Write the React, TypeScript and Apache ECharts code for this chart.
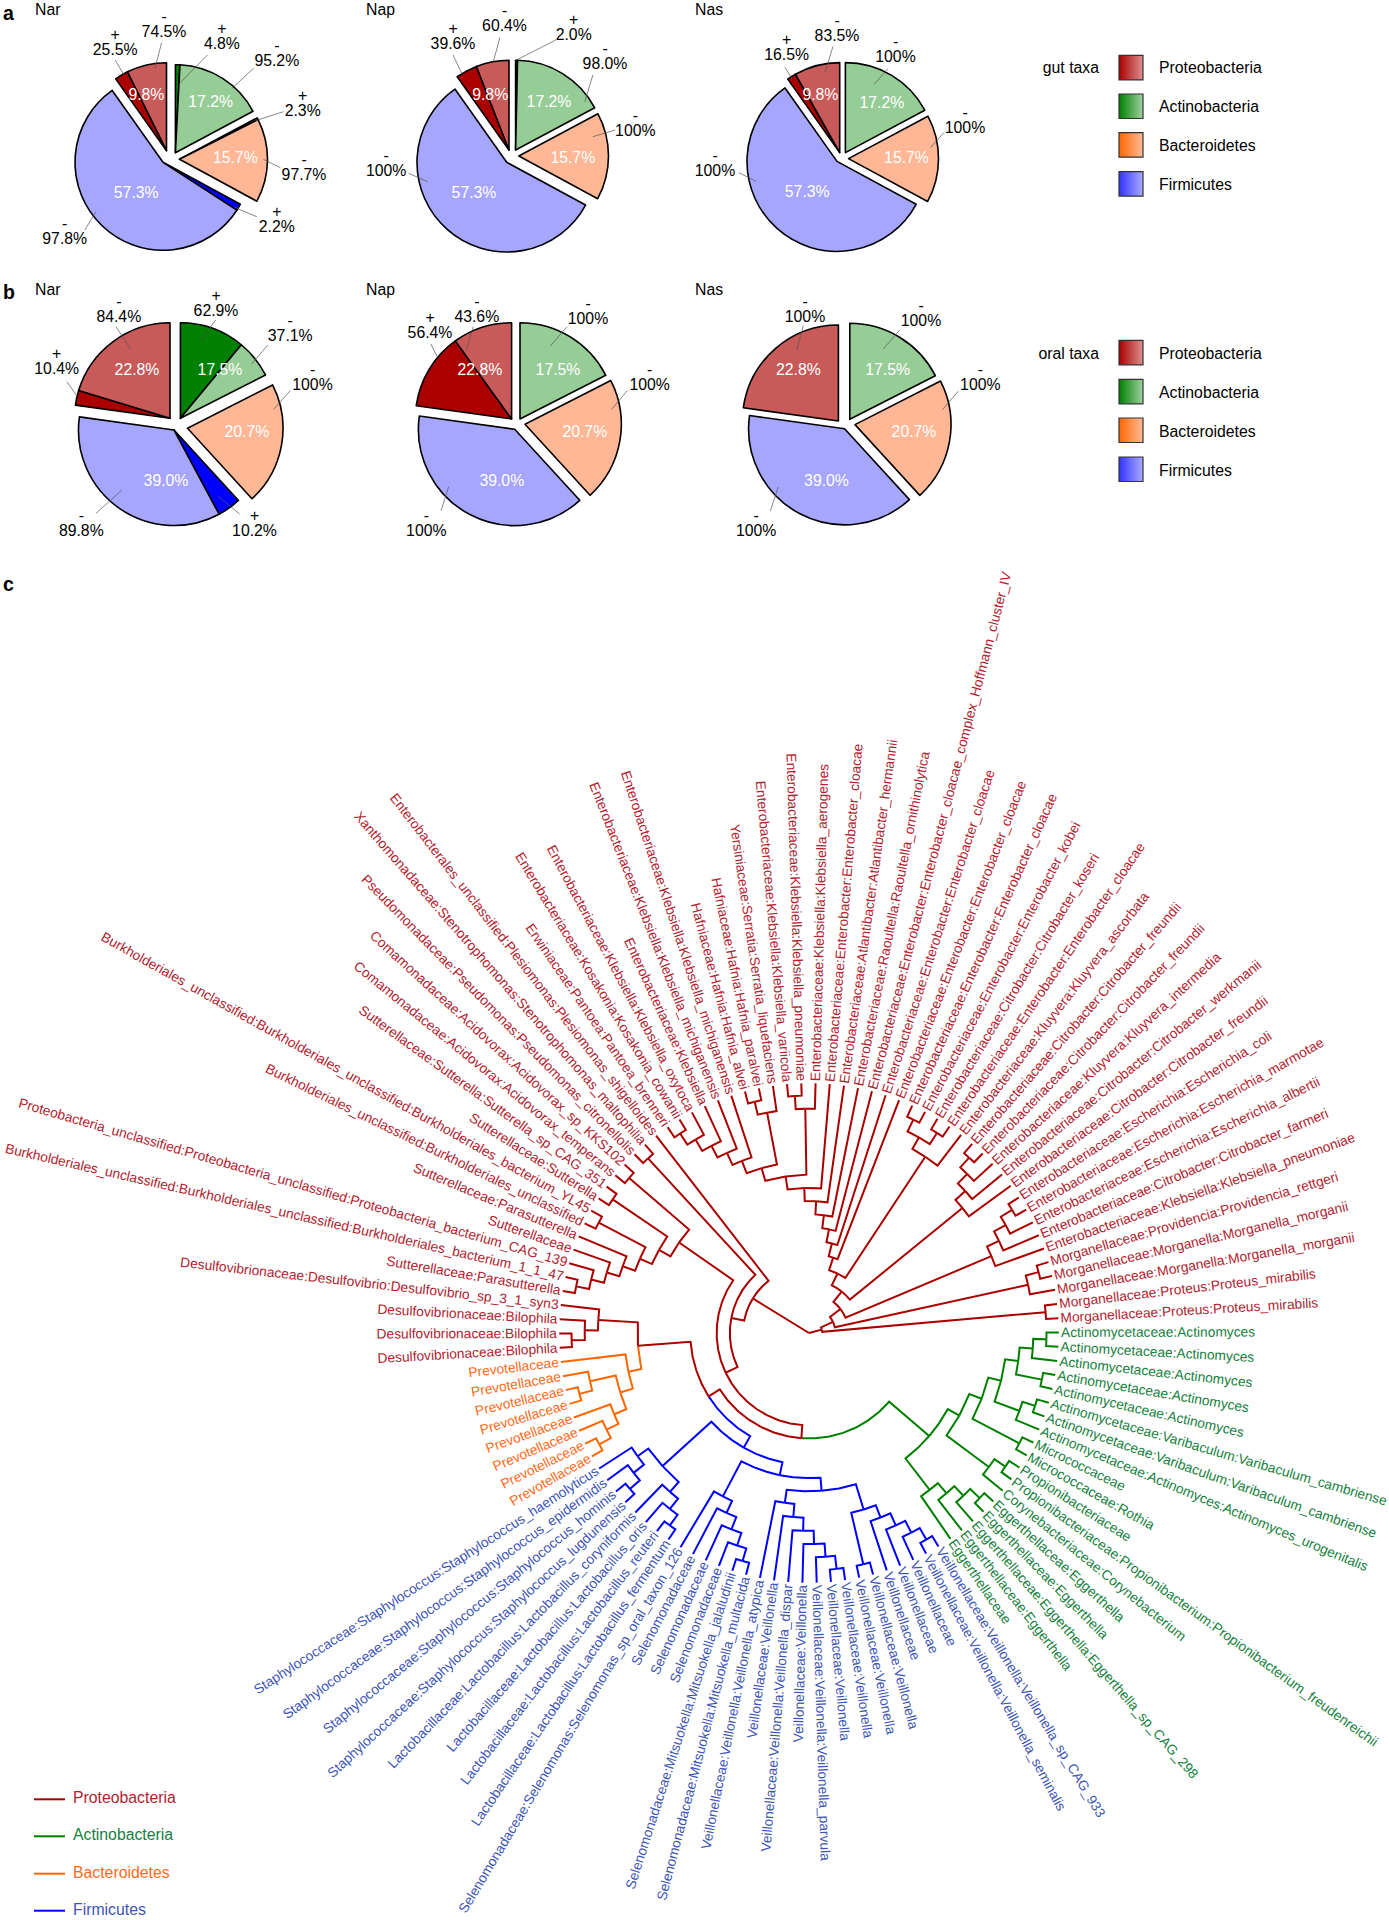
import React, { useEffect, useRef } from "react";
import * as echarts from "echarts";

const FONT = '"Liberation Sans", Arial, sans-serif';
// ---------- pie data (order: Actinobacteria, Bacteroidetes, Firmicutes, Proteobacteria)
const phylaOrder = ["Actinobacteria", "Bacteroidetes", "Firmicutes", "Proteobacteria"];
const gutShares = [17.2, 15.7, 57.3, 9.8];
const oralShares = [17.5, 20.7, 39.0, 22.8];
const gutNarPlus = [4.8, 2.3, 2.2, 25.5];
const gutNarMinus = [95.2, 97.7, 97.8, 74.5];
const gutNapPlus = [2.0, 0, 0, 39.6];
const gutNapMinus = [98.0, 100, 100, 60.4];
const gutNasPlus = [0, 0, 0, 16.5];
const gutNasMinus = [100, 100, 100, 83.5];
const oralNarPlus = [62.9, 0, 10.2, 10.4];
const oralNarMinus = [37.1, 100, 89.8, 84.4];
const oralNapPlus = [0, 0, 0, 56.4];
const oralNapMinus = [100, 100, 100, 43.6];
const oralNasPlus = [0, 0, 0, 0];
const oralNasMinus = [100, 100, 100, 100];

const lightColors = ["#96cc96", "#ffb795", "#a6a6ff", "#c85a5a"];
const darkColors = ["#008000", "#ff6600", "#0000ff", "#aa0000"];
const legendOrder = ["Proteobacteria", "Actinobacteria", "Bacteroidetes", "Firmicutes"];
const legendDark = ["#aa0000", "#008000", "#ff6600", "#3333ff"];
const legendLight = ["#dd9090", "#a0d0a0", "#ffbc99", "#aaaaff"];
const treeLegendText = ["#b2222f", "#168040", "#ff6a20", "#3d55b5"];
const treeLegendLine = ["#aa0000", "#008000", "#ff6600", "#0000ff"];

// layout: slice tips, radius, inner white labels, and callouts [phylum, sign, textX, textY, x1, y1, x2, y2]
const pieLayouts: any[] = [
  { shares: gutShares, plus: gutNarPlus, minus: gutNarMinus, r: 88,
    tips: [[175.4, 152.7], [179.5, 159.3], [163, 162.3], [166.5, 150.7]],
    white: [[210.7, 101.7], [235.3, 157.3], [136.2, 192.3], [146.4, 94.3]],
    calls: [[3, "+", 115.2, 49.3, 115.2, 60, 124, 75], [3, "-", 164, 31, 161.6, 42.7, 155, 68.3], [0, "+", 221.9, 43.3, 207.6, 55, 179.5, 83.3], [0, "-", 276.8, 60.7, 253.6, 68.3, 232, 88.3], [1, "+", 302.7, 110, 283.5, 111.7, 255.4, 120.7], [1, "-", 304, 174.3, 280.4, 167.7, 263.4, 159.3], [2, "+", 276.8, 226, 256.7, 216.7, 234.4, 207.3], [2, "-", 64.7, 238.3, 84.8, 230, 96, 211.7]] },
  { shares: gutShares, plus: gutNapPlus, minus: gutNapMinus, r: 89.7,
    tips: [[515.6, 150], [518.8, 156], [506.7, 162.3], [509, 150]],
    white: [[549, 101.7], [572.8, 157.3], [474, 192.3], [490.2, 94.3]],
    calls: [[3, "+", 453, 43.3, 453, 55, 462, 74], [3, "-", 504.5, 25.7, 500, 37.3, 493.3, 61.7], [0, "+", 573.7, 34.3, 555.8, 40, 516.5, 60], [0, "-", 605, 63.3, 592.9, 75, 584.8, 101.7], [1, "-", 635.3, 130.7, 615.2, 130, 592.9, 136.7], [2, "-", 386.2, 170, 408.5, 173.3, 427.7, 181.7]] },
  { shares: gutShares, plus: gutNasPlus, minus: gutNasMinus, r: 90,
    tips: [[845.4, 152.6], [848.5, 158.6], [837, 161.4], [839.7, 152.6]],
    white: [[881.9, 102.5], [906.5, 157.9], [807.2, 191.9], [820.4, 94]],
    calls: [[3, "+", 786.6, 54.4, 784.8, 67.4, 792.3, 79], [3, "-", 837, 35.4, 833, 46.3, 825.2, 72], [0, "-", 895.5, 56, 888, 68.4, 874.4, 84.2], [1, "-", 965, 127.4, 943.9, 132.6, 930.7, 147.4], [2, "-", 715, 170, 738.7, 172.6, 756.2, 181.4]] },
  { shares: oralShares, plus: oralNarPlus, minus: oralNarMinus, r: 95.5,
    tips: [[180.4, 418.3], [187.5, 428.3], [174, 430], [170, 418.3]],
    white: [[220, 369.3], [246.9, 431.3], [166, 480], [137, 369.3]],
    calls: [[3, "+", 56.7, 368, 67, 381.7, 76.8, 396], [3, "-", 118.8, 316, 116, 326.7, 130.8, 349.3], [0, "+", 216, 310, 215.6, 320, 200.9, 341], [0, "-", 290.2, 335, 267.9, 345, 251.3, 364.3], [1, "-", 312.5, 384.3, 290.2, 390.7, 273.7, 409.3], [2, "-", 81.3, 530.7, 96, 513.3, 121.9, 490], [2, "+", 254.5, 530.7, 239.7, 514, 217.4, 495.7]] },
  { shares: oralShares, plus: oralNapPlus, minus: oralNapMinus, r: 96.3,
    tips: [[520, 419], [525, 424.3], [514.7, 429.3], [511.6, 419]],
    white: [[558, 369.3], [584.8, 431.3], [501.8, 480], [479.9, 369.3]],
    calls: [[3, "+", 430, 332.3, 430.8, 344, 437.5, 357.3], [3, "-", 476.8, 316, 473.2, 326.7, 466.5, 350], [0, "-", 588, 318.3, 567, 326.7, 550.4, 346], [1, "-", 649.6, 384.3, 627.2, 390.7, 611.6, 409.3], [2, "-", 426.3, 530, 441, 510.7, 448.7, 486.7]] },
  { shares: oralShares, plus: oralNasPlus, minus: oralNasMinus, r: 96,
    tips: [[849.8, 419.3], [855, 424.6], [844.6, 428.8], [838.4, 421]],
    white: [[887.6, 369.5], [914, 431.6], [826.5, 480], [798.4, 369.5]],
    calls: [[3, "-", 805, 316.5, 803.3, 325.6, 796.7, 350.2], [0, "-", 921, 320.7, 899.9, 329.8, 883.2, 349.1], [1, "-", 980.3, 384.9, 958.3, 391.2, 942.5, 409.5], [2, "-", 756.2, 530.9, 770.3, 511.2, 778.2, 487]] },
];

// ---------- tree data: leaves clockwise from due east
const actinobacteriaLeaves = [
  "Actinomycetaceae:Actinomyces", "Actinomycetaceae:Actinomyces", "Actinomycetaceae:Actinomyces", "Actinomycetaceae:Actinomyces", "Actinomycetaceae:Actinomyces",
  "Actinomycetaceae:Varibaculum:Varibaculum_cambriense", "Actinomycetaceae:Varibaculum:Varibaculum_cambriense", "Actinomycetaceae:Actinomyces:Actinomyces_urogenitalis",
  "Micrococcaceae", "Micrococcaceae:Rothia", "Propionibacteriaceae", "Propionibacteriaceae:Propionibacterium:Propionibacterium_freudenreichii",
  "Corynebacteriaceae:Corynebacterium", "Eggerthellaceae:Eggerthella", "Eggerthellaceae:Eggerthella", "Eggerthellaceae:Eggerthella:Eggerthella_sp_CAG_298", "Eggerthellaceae:Eggerthella", "Eggerthellaceae",
];
const firmicutesLeaves = [
  "Veillonellaceae:Veillonella:Veillonella_sp_CAG_933", "Veillonellaceae:Veillonella:Veillonella_seminalis", "Veillonellaceae", "Veillonellaceae", "Veillonellaceae",
  "Veillonellaceae:Veillonella", "Veillonellaceae:Veillonella", "Veillonellaceae:Veillonella", "Veillonellaceae:Veillonella", "Veillonellaceae:Veillonella:Veillonella_parvula",
  "Veillonellaceae:Veillonella", "Veillonellaceae:Veillonella:Veillonella_dispar", "Veillonellaceae:Veillonella", "Veillonellaceae:Veillonella:Veillonella_atypica",
  "Selenomonadaceae:Mitsuokella:Mitsuokella_multacida", "Selenomonadaceae:Mitsuokella:Mitsuokella_jalaludinii", "Selenomonadaceae", "Selenomonadaceae", "Selenomonadaceae",
  "Selenomonadaceae:Selenomonas:Selenomonas_sp_oral_taxon_126", "Lactobacillaceae:Lactobacillus:Lactobacillus_fermentum", "Lactobacillaceae:Lactobacillus:Lactobacillus_reuteri",
  "Lactobacillaceae:Lactobacillus:Lactobacillus_oris", "Lactobacillaceae:Lactobacillus:Lactobacillus_coryniformis", "Staphylococcaceae:Staphylococcus:Staphylococcus_lugdunensis",
  "Staphylococcaceae:Staphylococcus:Staphylococcus_hominis", "Staphylococcaceae:Staphylococcus:Staphylococcus_epidermidis", "Staphylococcaceae:Staphylococcus:Staphylococcus_haemolyticus",
];
const bacteroidetesLeaves = ["Prevotellaceae", "Prevotellaceae", "Prevotellaceae", "Prevotellaceae", "Prevotellaceae", "Prevotellaceae", "Prevotellaceae", "Prevotellaceae"];
const proteobacteriaLeaves = [
  "Desulfovibrionaceae:Bilophila", "Desulfovibrionaceae:Bilophila", "Desulfovibrionaceae:Bilophila", "Desulfovibrionaceae:Desulfovibrio:Desulfovibrio_sp_3_1_syn3",
  "Sutterellaceae:Parasutterella", "Burkholderiales_unclassified:Burkholderiales_unclassified:Burkholderiales_bacterium_1_1_47",
  "Proteobacteria_unclassified:Proteobacteria_unclassified:Proteobacteria_bacterium_CAG_139", "Sutterellaceae", "Sutterellaceae:Parasutterella",
  "Burkholderiales_unclassified:Burkholderiales_unclassified", "Burkholderiales_unclassified:Burkholderiales_unclassified:Burkholderiales_bacterium_YL45",
  "Sutterellaceae:Sutterella", "Sutterellaceae:Sutterella:Sutterella_sp_CAG_351", "Comamonadaceae:Acidovorax:Acidovorax_temperans", "Comamonadaceae:Acidovorax:Acidovorax_sp_KKS102",
  "Pseudomonadaceae:Pseudomonas:Pseudomonas_citronellolis", "Xanthomonadaceae:Stenotrophomonas:Stenotrophomonas_maltophilia", "Enterobacterales_unclassified:Plesiomonas:Plesiomonas_shigelloides",
  "Erwiniaceae:Pantoea:Pantoea_brenneri", "Enterobacteriaceae:Kosakonia:Kosakonia_cowanii", "Enterobacteriaceae:Klebsiella:Klebsiella_oxytoca", "Enterobacteriaceae:Klebsiella",
  "Enterobacteriaceae:Klebsiella:Klebsiella_michiganensis", "Enterobacteriaceae:Klebsiella:Klebsiella_michiganensis", "Hafniaceae:Hafnia:Hafnia_alvei", "Hafniaceae:Hafnia:Hafnia_paralvei",
  "Yersiniaceae:Serratia:Serratia_liquefaciens", "Enterobacteriaceae:Klebsiella:Klebsiella_variicola", "Enterobacteriaceae:Klebsiella:Klebsiella_pneumoniae", "Enterobacteriaceae:Klebsiella:Klebsiella_aerogenes",
  "Enterobacteriaceae:Enterobacter:Enterobacter_cloacae", "Enterobacteriaceae:Atlantibacter:Atlantibacter_hermannii", "Enterobacteriaceae:Raoultella:Raoultella_ornithinolytica",
  "Enterobacteriaceae:Enterobacter:Enterobacter_cloacae_complex_Hoffmann_cluster_IV", "Enterobacteriaceae:Enterobacter:Enterobacter_cloacae", "Enterobacteriaceae:Enterobacter:Enterobacter_cloacae",
  "Enterobacteriaceae:Enterobacter:Enterobacter_cloacae", "Enterobacteriaceae:Enterobacter:Enterobacter_kobei", "Enterobacteriaceae:Citrobacter:Citrobacter_koseri",
  "Enterobacteriaceae:Enterobacter:Enterobacter_cloacae", "Enterobacteriaceae:Kluyvera:Kluyvera_ascorbata", "Enterobacteriaceae:Citrobacter:Citrobacter_freundii",
  "Enterobacteriaceae:Citrobacter:Citrobacter_freundii", "Enterobacteriaceae:Kluyvera:Kluyvera_intermedia", "Enterobacteriaceae:Citrobacter:Citrobacter_werkmanii",
  "Enterobacteriaceae:Citrobacter:Citrobacter_freundii", "Enterobacteriaceae:Escherichia:Escherichia_coli", "Enterobacteriaceae:Escherichia:Escherichia_marmotae",
  "Enterobacteriaceae:Escherichia:Escherichia_albertii", "Enterobacteriaceae:Citrobacter:Citrobacter_farmeri", "Enterobacteriaceae:Klebsiella:Klebsiella_pneumoniae",
  "Morganellaceae:Providencia:Providencia_rettgeri", "Morganellaceae:Morganella:Morganella_morganii", "Morganellaceae:Morganella:Morganella_morganii",
  "Morganellaceae:Proteus:Proteus_mirabilis", "Morganellaceae:Proteus:Proteus_mirabilis",
];
const leafNames = [...actinobacteriaLeaves, ...firmicutesLeaves, ...bacteroidetesLeaves, ...proteobacteriaLeaves];

// clades: [depth level of the bar, child, child]; a plain number is a leaf index into leafNames
const greenClade = [12, [13, [14, [15, [16, [17, [18, 0, 1], 2], [18, 3, 4]], [17, [18, 5, 6], 7]], [18, 8, 9]], [17, [18, 10, 11], 12]], [15, [16, [17, [18, 13, 14], 15], 16], 17]];
const blueClade = [10, [11, [12, [14, [15, [16, [17, [18, 18, 19], 20], 21], 22], [18, 23, 24]], [13, [14, [15, [16, [17, [18, 25, 26], 27], 28], 29], 30], 31]], [14, [15, [16, [17, [18, 32, 33], 34], 35], 36], 37]], [15, [16, [17, [18, 38, 39], 40], 41], [16, [17, [18, 42, 43], 44], 45]]];
const orangeClade = [14, [15, [16, [17, [18, 46, 47], 48], 49], [17, [18, 50, 51], 52]], 53];
const desulfoClade = [16, [17, [18, 54, 55], 56], 57];
const sutterClade = [12, [13, [14, [15, [16, [17, [18, 58, 59], 60], 61], 62], [18, 63, 64]], [18, 65, 66]], [18, 67, 68]];
const westClade = [5, [6, [7, [8, greenClade, [9, blueClade, [13, orangeClade, desulfoClade]]], sutterClade], [18, 69, 70]], 71];
const enteroA = [13, [14, [15, [16, [17, [18, 72, 73], 74], 75], 76], 77], [17, [18, 78, 79], 80]];
const enteroStack = [6, [7, [8, [9, [10, [11, [12, enteroA, [17, [18, 81, 82], 83]], 84], 85], 86], 87], 88], 89];
const eastClade = [1, [2, [3, [4, [5, enteroStack, [16, [17, [18, 90, 91], [18, 92, 93]], 94]], [15, [16, [17, [18, 95, 96], 97], 98], 99]], [15, [16, [17, [18, 100, 101], 102], 103], 104]], [17, [18, 105, 106], 107]], [18, 108, 109]];
const treeRoot = [0, westClade, eastClade];

// geometry
const TREE_CENTER = [809, 1333];
const LEVEL_MAX = 19.1;
const TREE_RADIUS = 252;
const LEAF_END = 18.93;
const FIRST_LEAF_ANGLE = 0.13;
const LEAF_STEP = 360 / leafNames.length;

const BRANCH: any = { g: "#008000", b: "#0000ff", o: "#ff6600", r: "#aa0000" };
const LABEL: any = { g: "#168040", b: "#3d55b5", o: "#ff6a20", r: "#b2222f" };
const phylumOf = (i: number) =>
  i < actinobacteriaLeaves.length ? "g"
  : i < actinobacteriaLeaves.length + firmicutesLeaves.length ? "b"
  : i < actinobacteriaLeaves.length + firmicutesLeaves.length + bacteroidetesLeaves.length ? "o" : "r";
const leafAngle = (i: number) => FIRST_LEAF_ANGLE - i * LEAF_STEP;
const norm = (a: number) => ((a % 360) + 360) % 360;

type Seg = { pts: number[][]; color: string };
const segments: Seg[] = [];
function walk(node: any): { angle: number; phylum: string; level: number } {
  if (typeof node === "number") return { angle: leafAngle(node), phylum: phylumOf(node), level: LEAF_END };
  const [level, a, b] = node;
  const kids = [walk(a), walk(b)];
  const angle = (kids[0].angle + kids[1].angle) / 2;
  kids.forEach((k) => {
    const color = BRANCH[k.phylum];
    const n = Math.max(1, Math.ceil(Math.abs(k.angle - angle) / 8));
    const pts: number[][] = [];
    for (let s = 0; s <= n; s++) pts.push([level, angle + ((k.angle - angle) * s) / n]);
    pts.push([k.level, k.angle]);
    segments.push({ pts, color });
  });
  return { angle, phylum: kids[0].phylum === kids[1].phylum ? kids[0].phylum : "r", level };
}
walk(treeRoot);

const pct = (v: number) => (v === 100 ? "100%" : v.toFixed(1) + "%");

function pieSeries() {
  const out: any[] = [];
  pieLayouts.forEach((p) => {
    let cum = 0;
    p.shares.forEach((share: number, g: number) => {
      const total = p.plus[g] + p.minus[g];
      const data: any[] = [];
      const border = { borderColor: "#000", borderWidth: 1.6 };
      if (p.plus[g] > 0) data.push({ name: phylaOrder[g] + " +", value: (share * p.plus[g]) / total, itemStyle: { color: darkColors[g], ...border } });
      data.push({ name: phylaOrder[g] + " -", value: (share * p.minus[g]) / total, itemStyle: { color: lightColors[g], ...border } });
      data.push({ name: "rest", value: 100 - share, itemStyle: { color: "transparent", borderWidth: 0 } });
      out.push({
        type: "pie", silent: true, center: p.tips[g], radius: [0, p.r], startAngle: 90 - cum * 3.6, clockwise: true,
        label: { show: false }, labelLine: { show: false }, emphasis: { disabled: true }, data, z: 2,
      });
      cum += share;
    });
  });
  return out;
}

const txt = (text: string, x: number, y: number, o: any = {}) => ({
  type: "text", x, y, z: 100, silent: true,
  style: {
    text, fill: o.fill || "#000", fontSize: o.size || 15.8, fontFamily: FONT, fontWeight: o.weight || "normal",
    align: o.align || "center", verticalAlign: "middle", textAlign: o.align || "center", textVerticalAlign: "middle",
  },
});

function graphics() {
  const g: any[] = [];
  const titles = ["Nar", "Nap", "Nas"];
  const titleX = [35, 366, 695];
  titles.forEach((t, i) => {
    g.push(txt(t, titleX[i], 9.5, { align: "left" }));
    g.push(txt(t, titleX[i], 289, { align: "left" }));
  });
  [["a", 13], ["b", 292], ["c", 584]].forEach(([t, y]: any) => g.push(txt(t, 3, y, { align: "left", weight: "bold", size: 19.5 })));
  pieLayouts.forEach((p) => {
    p.shares.forEach((s: number, i: number) => g.push(txt(s.toFixed(1) + "%", p.white[i][0], p.white[i][1], { fill: "#fff" })));
    p.calls.forEach((c: any[]) => {
      const [ph, sign, x, y, x1, y1, x2, y2] = c;
      const v = sign === "+" ? p.plus[ph] : p.minus[ph];
      g.push(txt(pct(v), x, y));
      g.push(txt(sign, x, y - 15));
      g.push({ type: "line", z: 99, silent: true, shape: { x1, y1, x2, y2 }, style: { stroke: "#555", lineWidth: 0.7 } });
    });
  });
  const legendBlocks = [
    { title: "gut taxa", titleY: 67.7, tops: [55.4, 94, 132.6, 171.6], labels: [67.7, 106.3, 145, 184.2] },
    { title: "oral taxa", titleY: 353.3, tops: [340.4, 379.3, 418, 457], labels: [353.3, 392.6, 431, 470] },
  ];
  legendBlocks.forEach((b) => {
    g.push(txt(b.title, 1099, b.titleY, { align: "right" }));
    legendOrder.forEach((name, i) => {
      g.push({
        type: "rect", z: 100, silent: true, shape: { x: 1119, y: b.tops[i], width: 24, height: 24.5 },
        style: {
          fill: new echarts.graphic.LinearGradient(0, 0, 1, 0, [{ offset: 0, color: legendDark[i] }, { offset: 1, color: legendLight[i] }]),
          stroke: "#333", lineWidth: 1.2,
        },
      });
      g.push(txt(name, 1159, b.labels[i], { align: "left" }));
    });
  });
  const lineY = [1799.3, 1836.3, 1873.7, 1910.7];
  legendOrder.forEach((name, i) => {
    g.push({ type: "line", z: 100, silent: true, shape: { x1: 34, y1: lineY[i], x2: 65, y2: lineY[i] }, style: { stroke: treeLegendLine[i], lineWidth: 2 } });
    g.push(txt(name, 73, lineY[i] - 1.5, { align: "left", fill: treeLegendText[i] }));
  });
  return g;
}

export default function App() {
  const ref = useRef<HTMLDivElement>(null);
  useEffect(() => {
    if (!ref.current) return;
    const chart = echarts.init(ref.current, undefined, { renderer: "svg" });
    chart.setOption({
      animation: false,
      backgroundColor: "#fff",
      textStyle: { fontFamily: FONT },
      polar: { center: TREE_CENTER, radius: [0, TREE_RADIUS] },
      angleAxis: { type: "value", min: 0, max: 360, startAngle: 0, clockwise: false, show: false },
      radiusAxis: { type: "value", min: 0, max: LEVEL_MAX, show: false },
      graphic: { elements: graphics() },
      series: [
        ...pieSeries(),
        {
          type: "custom", coordinateSystem: "polar", silent: true, clip: false, z: 3,
          encode: { radius: 0, angle: 1 },
          data: segments.map((s, i) => [s.pts[0][0], norm(s.pts[0][1]), i]),
          renderItem: (_p: any, api: any) => {
            const s = segments[api.value(2)];
            return {
              type: "polyline",
              shape: { points: s.pts.map((q) => api.coord([q[0], norm(q[1])])) },
              style: { stroke: s.color, lineWidth: 2, fill: "none", lineJoin: "miter" },
            };
          },
        },
        {
          type: "custom", coordinateSystem: "polar", silent: true, clip: false, z: 4,
          encode: { radius: 0, angle: 1 },
          data: leafNames.map((_n, i) => [LEVEL_MAX, norm(leafAngle(i)), i]),
          renderItem: (_p: any, api: any) => {
            const i = api.value(2);
            const a = leafAngle(i);
            const pos = api.coord([LEVEL_MAX, norm(a)]);
            const right = Math.cos((a * Math.PI) / 180) >= 0;
            const rot = right ? a : a + 180;
            return {
              type: "text", x: pos[0], y: pos[1], rotation: (rot * Math.PI) / 180,
              style: {
                text: leafNames[i], fill: LABEL[phylumOf(i)], fontSize: 13.75, fontFamily: FONT,
                align: right ? "left" : "right", verticalAlign: "middle",
                textAlign: right ? "left" : "right", textVerticalAlign: "middle",
              },
            };
          },
        },
      ],
    });
    return () => chart.dispose();
  }, []);
  return <div ref={ref} style={{ position: "absolute", left: 0, top: 0, width: 1389, height: 1920 }} />;
}
